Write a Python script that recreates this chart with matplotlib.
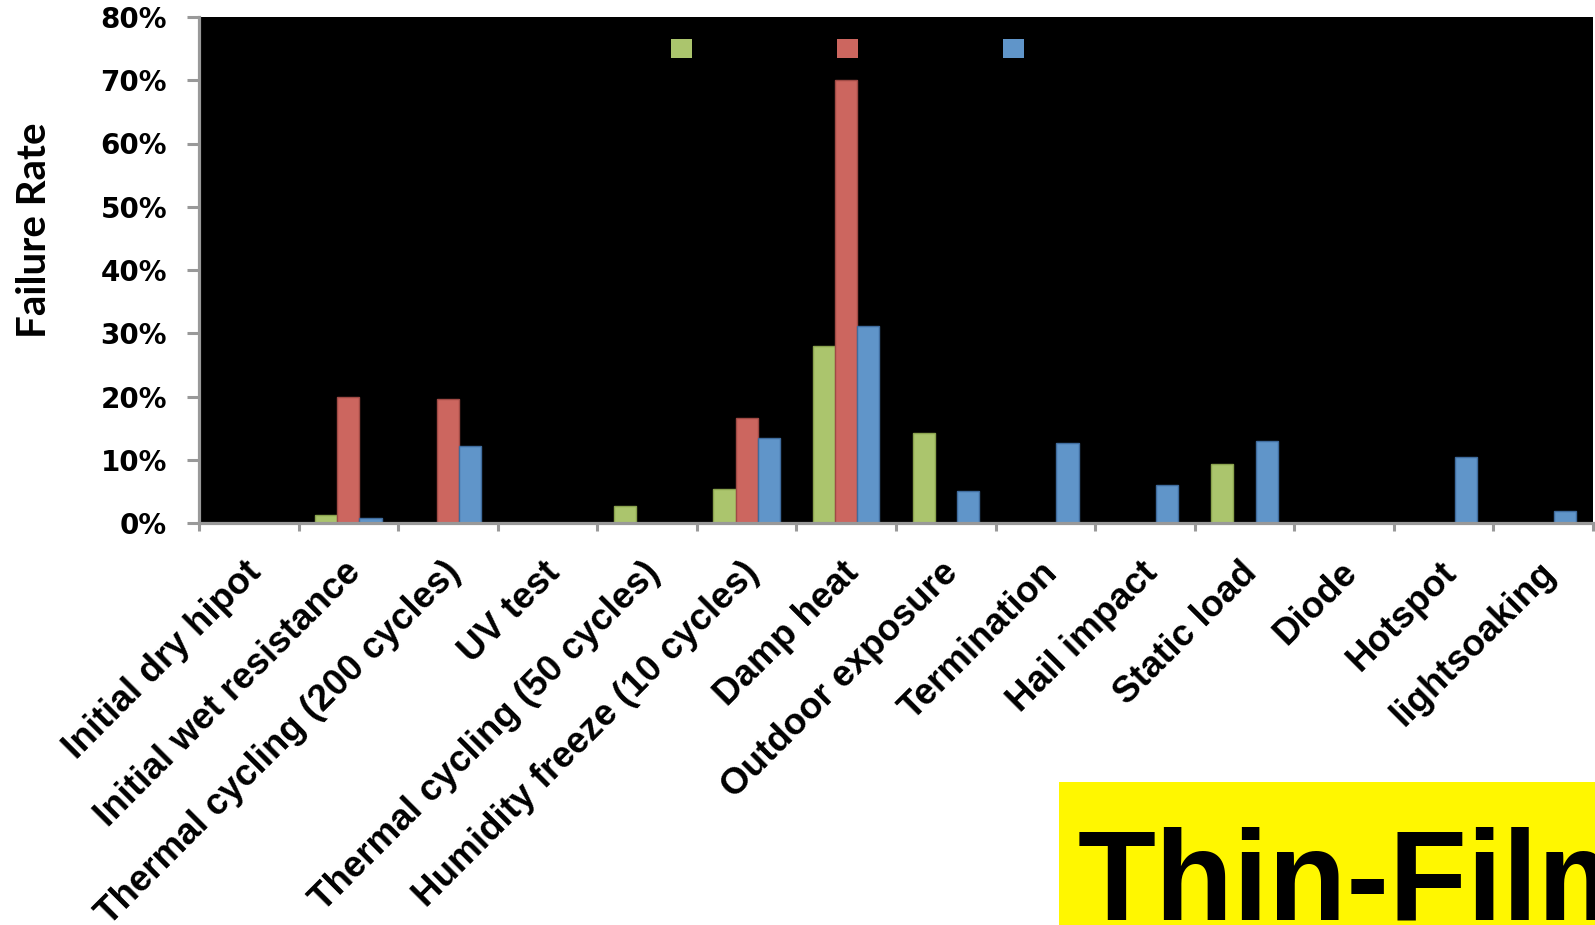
import numpy as np
import matplotlib.pyplot as plt
import matplotlib.transforms as mtransforms
from matplotlib.patches import Rectangle

categories = [
    "Initial dry hipot", "Initial wet resistance", "Thermal cycling (200 cycles)",
    "UV test", "Thermal cycling (50 cycles)", "Humidity freeze (10 cycles)",
    "Damp heat", "Outdoor exposure", "Termination", "Hail impact",
    "Static load", "Diode", "Hotspot", "lightsoaking",
]
green_vals = [0.0, 1.3, 0.0, 0.0, 2.7, 5.3, 28.0, 14.2, 0.0, 0.0, 9.3, 0.0, 0.0, 0.0]
red_vals = [0.0, 20.0, 19.6, 0.0, 0.0, 16.6, 70.0, 0.0, 0.0, 0.0, 0.0, 0.0, 0.0, 0.0]
blue_vals = [0.0, 0.8, 12.2, 0.0, 0.0, 13.4, 31.2, 5.0, 12.6, 6.0, 13.0, 0.0, 10.5, 1.9]
yticks = [0, 10, 20, 30, 40, 50, 60, 70, 80]

fills = ["#ABC56D", "#CC665F", "#6095C9"]
edges = ["#8AA34E", "#A04A45", "#3F6C9E"]
grey = "#999999"

fig = plt.figure(figsize=(15.95, 9.25), dpi=100)
W, H = 1595, 925
ax = fig.add_axes([199 / W, 1 - 523 / H, 1394 / W, 506 / H])
ax.set_facecolor("black")

x = np.arange(len(categories))
w = 0.222
bars = []
for k, vals in enumerate([green_vals, red_vals, blue_vals]):
    b = ax.bar(x + (k - 1) * w, vals, width=w, color=fills[k],
               edgecolor=edges[k], linewidth=1.0, zorder=2)
    bars.append(b)

ax.set_xlim(-0.5, len(categories) - 0.5)
ax.set_ylim(0, 80)

for s in ["top", "right"]:
    ax.spines[s].set_visible(False)
for s in ["left", "bottom"]:
    ax.spines[s].set_color(grey)
    ax.spines[s].set_linewidth(2.3)
    ax.spines[s].set_zorder(3)

ax.set_yticks(yticks)
ax.set_yticklabels([f"{v}%" for v in yticks], fontfamily="DejaVu Sans",
                   fontweight="bold", fontsize=20)
ax.tick_params(axis="y", direction="out", length=9, width=2.2, color=grey, pad=14)

ax.set_xticks(x)
ax.set_xticks(np.arange(-0.5, len(categories)), minor=True)
ax.tick_params(axis="x", which="major", length=0, pad=23)
ax.tick_params(axis="x", which="minor", direction="out", length=6, width=2.2, color=grey)
ax.set_xticklabels(categories, rotation=45, ha="right", va="top",
                   rotation_mode="anchor", fontfamily="Liberation Sans",
                   fontweight="bold", fontsize=26.5)
shift = mtransforms.ScaledTranslation(-5 / 100, 0, fig.dpi_scale_trans)
for lab in ax.get_xticklabels():
    lab.set_transform(lab.get_transform() + shift)

ax.set_ylabel("Failure Rate", fontfamily="Lato", fontweight="bold", fontsize=29)
ax.yaxis.set_label_coords(-0.105, 0.578)

# legend: coloured squares only
leg = ax.legend(bars, ["", "", ""], ncol=3, frameon=False,
                loc="upper left", bbox_to_anchor=(671 / W, 1 - 39 / H),
                bbox_transform=fig.transFigure, borderaxespad=0, borderpad=0,
                fontsize=15, handlelength=1, handleheight=1,
                handletextpad=0, columnspacing=6.97)
for h in leg.legend_handles:
    h.set_edgecolor("none")

# yellow banner in the lower right
fig.patches.append(Rectangle((1059 / W, 0), 1 - 1059 / W, 1 - 782 / H,
                             transform=fig.transFigure, facecolor="#FFF700",
                             edgecolor="none", zorder=5))
fig.text(1078 / W, 1 - 920 / H, "Thin-Film", fontfamily="Liberation Sans",
         fontweight="bold", fontsize=92, color="black", ha="left",
         va="baseline", zorder=6)

fig.savefig("out.png", dpi=100, facecolor="white")
